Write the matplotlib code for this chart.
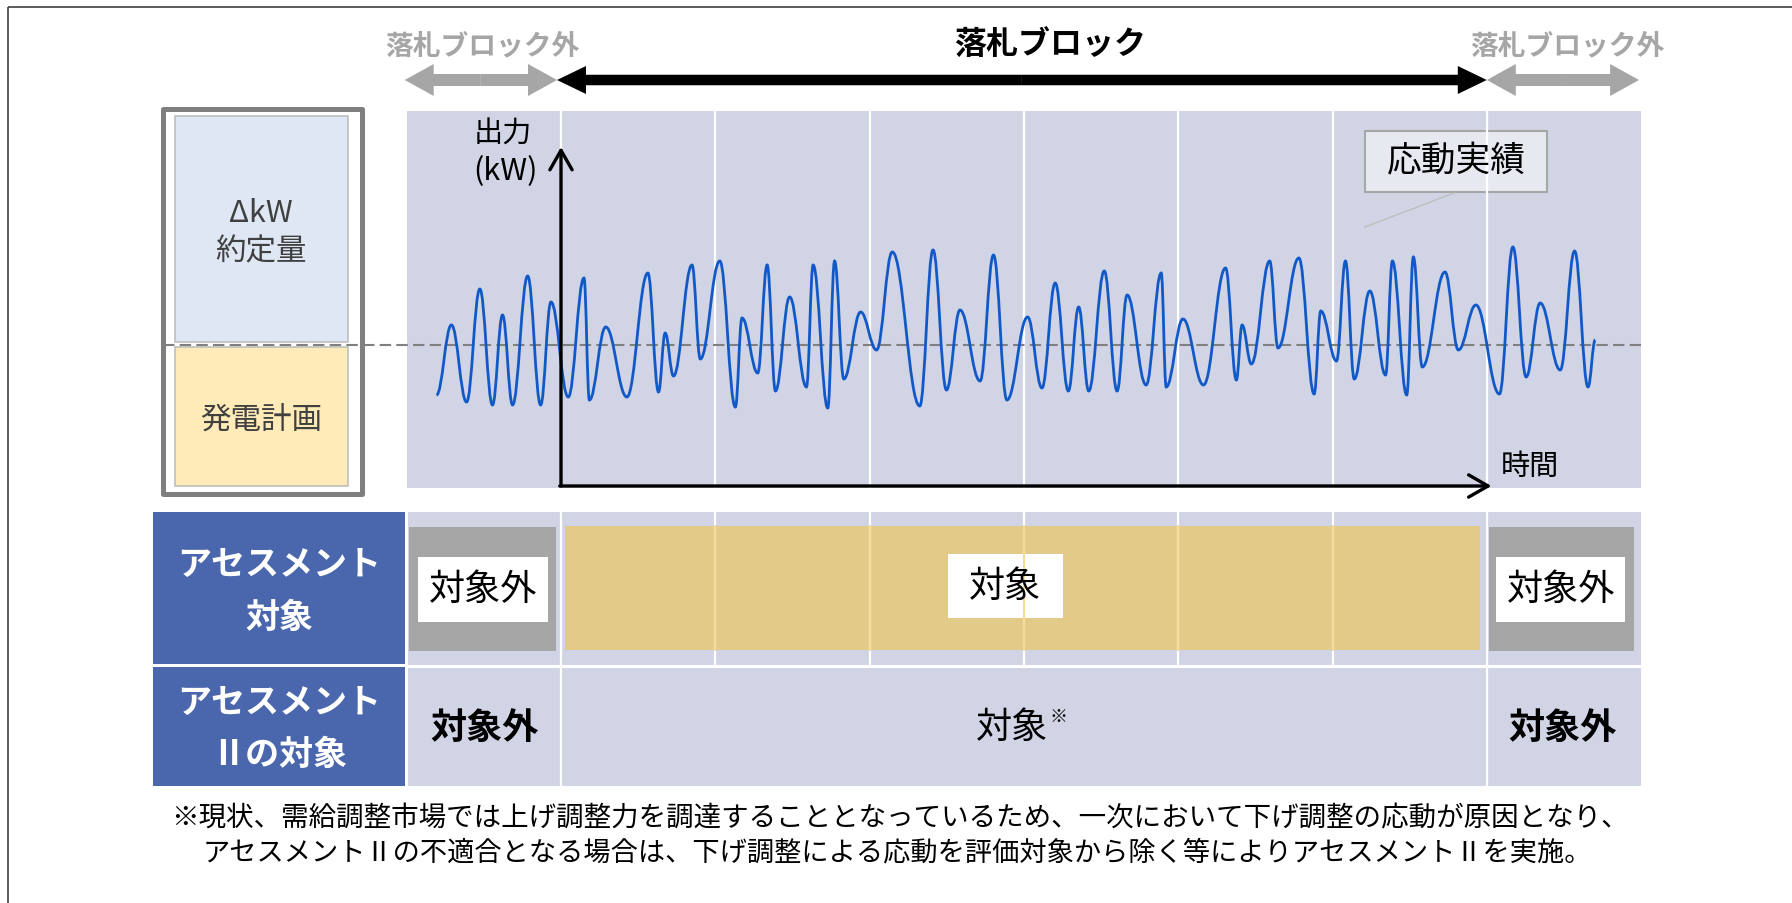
import matplotlib.pyplot as plt
from matplotlib.patches import Rectangle, FancyArrow, PathPatch
from matplotlib.path import Path

plt.rcParams['font.family'] = ['Noto Sans CJK JP', 'DejaVu Sans']

# labels
block_label = '落札ブロック'
outside_label = '落札ブロック外'
y_label = ['出力', '(kW)']
x_label = '時間'
wave_label = '応動実績'
kw_label = ['ΔkW', '約定量']
plan_label = '発電計画'
row_headers = [['アセスメント', '対象'], ['アセスメント', 'Ⅱの対象']]
row1_cells = ['対象外', '対象', '対象外']
row2_cells = ['対象外', '対象', '対象外']
note_mark = '※'
footnote = ['※現状、需給調整市場では上げ調整力を調達することとなっているため、一次において下げ調整の応動が原因となり、',
            'アセスメントⅡの不適合となる場合は、下げ調整による応動を評価対象から除く等によりアセスメントⅡを実施。']

# response record: time in block columns (block = 0..6), output relative to plan
wave_t = [-0.807, -0.710, -0.612, -0.526, -0.444, -0.379, -0.314, -0.216, -0.132, -0.065,
          0.047, 0.149, 0.184, 0.290, 0.427, 0.563, 0.632, 0.675, 0.729, 0.849,
          0.903, 1.029, 1.130, 1.173, 1.275, 1.336, 1.390, 1.482, 1.591, 1.634,
          1.729, 1.773, 1.833, 1.942, 2.045, 2.147, 2.325, 2.411, 2.498, 2.586,
          2.716, 2.803, 2.890, 3.024, 3.117, 3.203, 3.288, 3.355, 3.420, 3.521,
          3.604, 3.669, 3.792, 3.890, 3.922, 4.031, 4.164, 4.307, 4.377, 4.414,
          4.474, 4.593, 4.647, 4.782, 4.881, 4.924, 5.026, 5.084, 5.141, 5.242,
          5.344, 5.388, 5.481, 5.524, 5.582, 5.729, 5.816, 5.929, 6.082, 6.169,
          6.255, 6.346, 6.476, 6.569, 6.656, 6.703]
wave_v = [-5.0, 2.0, -5.7, 5.6, -6.0, 3.0, -6.0, 6.9, -6.0, 4.3,
          -5.2, 6.7, -5.5, 1.8, -5.2, 7.2, -4.7, 1.2, -3.1, 8.0,
          -1.4, 8.4, -6.2, 2.7, -2.8, 8.0, -4.6, 4.8, -4.2, 8.0,
          -6.3, 8.4, -3.4, 3.3, -0.5, 9.3, -6.1, 9.5, -4.5, 3.5,
          -3.6, 9.0, -5.5, 2.8, -4.3, 6.2, -4.6, 3.8, -4.6, 7.4,
          -4.6, 5.0, -4.0, 7.2, -4.2, 2.6, -4.0, 7.7, -3.5, 2.0,
          -1.9, 8.4, -0.3, 8.7, -4.9, 3.4, -1.6, 8.4, -3.4, 5.4,
          -3.0, 8.4, -5.0, 8.8, -2.2, 7.3, -0.5, 4.0, -4.9, 9.8,
          -3.2, 4.2, -2.5, 9.4, -4.2, 0.5]

LAV = '#D0D4E5'
GRAY = '#A6A6A6'
BLUE = '#4A66AC'

fig = plt.figure(figsize=(17.92, 9.04), dpi=100)
ax = fig.add_axes([0, 0, 1, 1])
ax.set_xlim(0, 1792)
ax.set_ylim(904, 0)
ax.axis('off')

x0, step = 561, 154.3   # pixel of block start, column width
def px(t):
    return x0 + step * t

# outer frame
ax.add_patch(Rectangle((8, 8), 1800, 910, fill=False, ec='#404040', lw=1.2))

# top arrows
def darrow(xa, xb, y, color, shaft, hw, hl):
    mid = (xa + xb) / 2
    for end in (xa, xb):
        ax.add_patch(FancyArrow(mid, y, end - mid, 0, width=shaft, head_width=hw,
                                head_length=hl, length_includes_head=True, color=color, lw=0))

darrow(px(-1) - 2, px(0) - 4, 81, GRAY, 12, 32, 29)
darrow(px(0) - 4, px(6), 81, 'black', 10.5, 28, 29)
darrow(px(6), px(7) - 2, 81, GRAY, 12, 32, 29)
ax.text(482, 46, outside_label, color=GRAY, fontsize=20, fontweight='bold', ha='center', va='center')
ax.text(1050, 46, block_label, color='black', fontsize=23, fontweight='bold', ha='center', va='center')
ax.text(1567, 46, outside_label, color=GRAY, fontsize=20, fontweight='bold', ha='center', va='center')

# left box
ax.add_patch(Rectangle((162.5, 109.5), 199, 385, fc='white', ec='#7F7F7F', lw=3.6, joinstyle='round'))
ax.add_patch(Rectangle((175, 117), 173, 226, fc='#DEE7F3', ec='#BFBFBF', lw=1.2))
ax.add_patch(Rectangle((175, 348), 173, 139, fc='#FFEBB8', ec='#BFBFBF', lw=1.2))
ax.text(261, 213, kw_label[0], color='#404040', fontsize=22, ha='center', va='center')
ax.text(261, 252, kw_label[1], color='#404040', fontsize=22, ha='center', va='center')
ax.text(261, 420, plan_label, color='#404040', fontsize=22, ha='center', va='center')

# chart panel
ax.add_patch(Rectangle((px(-1), 112), step * 8, 377, fc=LAV, lw=0))
for k in range(0, 7):
    ax.plot([px(k), px(k)], [112, 489], color='white', lw=1.6)

# plan line
ax.plot([163, px(7)], [346, 346], color='#808080', lw=1.5, ls=(0, (5.5, 2.5)))

# labels in chart
ax.text(503, 135, y_label[0], fontsize=21, ha='center', va='center')
ax.text(505, 172, y_label[1], fontsize=22, ha='center', va='center')
ax.text(1530, 467, x_label, fontsize=21, ha='center', va='center')
ax.add_patch(Rectangle((1365, 132), 182, 61, fc='#E7E9F1', ec=GRAY, lw=1.5))
ax.text(1456, 162, wave_label, fontsize=25, ha='center', va='center')
ax.plot([1454, 1365], [194, 228], color='#BFBFBF', lw=1)

# table
ax.add_patch(Rectangle((153, 513), 252, 152, fc=BLUE, lw=0))
ax.add_patch(Rectangle((153, 668), 252, 119, fc=BLUE, lw=0))
ax.add_patch(Rectangle((px(-1) + 1, 513), step * 8 - 1, 274, fc=LAV, lw=0))
ax.plot([px(-1), px(7)], [666.5, 666.5], color='white', lw=2.2)
for k in range(0, 7):
    ax.plot([px(k), px(k)], [513, 665], color='white', lw=1.6)
for k in (0, 6):
    ax.plot([px(k), px(k)], [668, 787], color='white', lw=1.6)

ax.add_patch(Rectangle((409, 528), 147, 124, fc=GRAY, lw=0))
ax.add_patch(Rectangle((1489, 528), 145, 124, fc=GRAY, lw=0))
ax.add_patch(Rectangle((565, 527), 915, 124, fc='#E2CA89', lw=0))
for k in range(1, 6):
    ax.plot([px(k), px(k)], [527, 651], color='#F6DC92', lw=1.4)
ax.add_patch(Rectangle((418, 558), 130, 65, fc='white', lw=0))
ax.add_patch(Rectangle((1496, 558), 129, 65, fc='white', lw=0))
ax.add_patch(Rectangle((948, 555), 115, 64, fc='white', lw=0))
ax.text(483, 590, row1_cells[0], fontsize=26, ha='center', va='center')
ax.text(1005, 587, row1_cells[1], fontsize=26, ha='center', va='center')
ax.text(1561, 590, row1_cells[2], fontsize=26, ha='center', va='center')

ax.text(485, 728, row2_cells[0], fontsize=26, fontweight='bold', ha='center', va='center')
ax.text(1012, 728, row2_cells[1], fontsize=26, ha='center', va='center')
ax.text(1050, 717, note_mark, fontsize=13, ha='left', va='center')
ax.text(1563, 728, row2_cells[2], fontsize=26, fontweight='bold', ha='center', va='center')

for (l1, l2), (y1, y2) in zip(row_headers, [(565, 617), (703, 754)]):
    ax.text(279, y1, l1, color='white', fontsize=24.5, fontweight='bold', ha='center', va='center')
    ax.text(279, y2, l2, color='white', fontsize=24.5, fontweight='bold', ha='center', va='center')

# footnote
ax.text(171, 819, footnote[0], fontsize=19.8, ha='left', va='center')
ax.text(203, 853, footnote[1], fontsize=19.6, ha='left', va='center')

# wave axes (time in block columns, output relative to plan)
wax = fig.add_axes([px(-1) / 1792, (904 - 489) / 904, step * 8 / 1792, 377 / 904])
wax.set_xlim(-1, 7)
wax.set_ylim(-14.3, 23.4)
wax.axis('off')
wax.patch.set_alpha(0)

k = 0.4
verts = [(wave_t[0], wave_v[0])]
codes = [Path.MOVETO]
for i in range(len(wave_t) - 1):
    dt = wave_t[i + 1] - wave_t[i]
    verts += [(wave_t[i] + k * dt, wave_v[i]), (wave_t[i + 1] - k * dt, wave_v[i + 1]),
              (wave_t[i + 1], wave_v[i + 1])]
    codes += [Path.CURVE4] * 3
wax.add_patch(PathPatch(Path(verts, codes), fill=False, ec='#1259C8', lw=2.0))

arrow = dict(arrowstyle='->,head_length=0.7,head_width=0.4', lw=2.4, color='black',
             shrinkA=0, shrinkB=0, mutation_scale=20)
wax.annotate('', xy=(0, 19.8), xytext=(0, -14.1), arrowprops=arrow, annotation_clip=False)
wax.annotate('', xy=(6.03, -14.1), xytext=(-0.008, -14.1), arrowprops=arrow, annotation_clip=False)

fig.savefig('out.png', dpi=100)
